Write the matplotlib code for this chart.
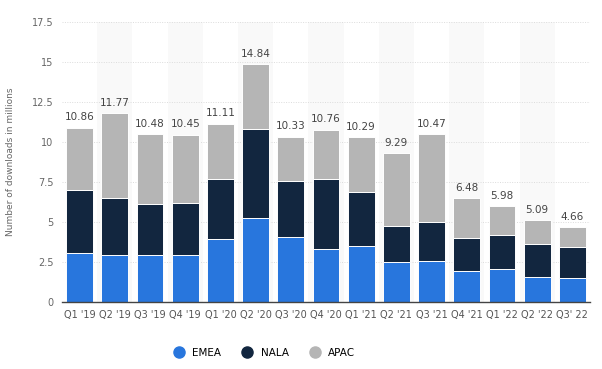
import matplotlib
matplotlib.use("Agg")
import matplotlib.pyplot as plt
from matplotlib.lines import Line2D
import numpy as np

categories = ["Q1 '19", "Q2 '19", "Q3 '19", "Q4 '19", "Q1 '20", "Q2 '20", "Q3 '20",
              "Q4 '20", "Q1 '21", "Q2 '21", "Q3 '21", "Q4 '21", "Q1 '22", "Q2 '22", "Q3' 22"]
emea = [3.08, 2.94, 2.90, 2.90, 3.90, 5.25, 4.06, 3.33, 3.46, 2.52, 2.56, 1.90, 2.06, 1.54, 1.48]
nala = [3.92, 3.56, 3.23, 3.30, 3.79, 5.56, 3.46, 4.34, 3.42, 2.25, 2.42, 2.10, 2.11, 2.06, 1.94]
totals = [10.86, 11.77, 10.48, 10.45, 11.11, 14.84, 10.33, 10.76, 10.29, 9.29, 10.47, 6.48, 5.98, 5.09, 4.66]
apac = [round(t - e - n, 2) for t, e, n in zip(totals, emea, nala)]
yticks = [0, 2.5, 5, 7.5, 10, 12.5, 15, 17.5]
ytick_labels = ["0", "2.5", "5", "7.5", "10", "12.5", "15", "17.5"]

c_emea = "#2876dd"
c_nala = "#12263f"
c_apac = "#b5b5b5"

fig = plt.figure(figsize=(6.02, 3.69), dpi=100)
ax = fig.add_axes([0.103, 0.182, 0.877, 0.759])
x = np.arange(len(categories))

for i in x:
    if i % 2 == 1:
        ax.axvspan(i - 0.5, i + 0.5, color="#f9f9f9", zorder=0, lw=0)

for y in yticks[1:]:
    ax.axhline(y, color="#dcdcdc", lw=0.7, ls=(0, (1, 1.5)), zorder=1)

w = 0.76
ax.bar(x, emea, w, color=c_emea, edgecolor="white", linewidth=0.7, zorder=2)
ax.bar(x, nala, w, bottom=emea, color=c_nala, edgecolor="white", linewidth=0.7, zorder=2)
bot2 = [e + n for e, n in zip(emea, nala)]
ax.bar(x, apac, w, bottom=bot2, color=c_apac, edgecolor="white", linewidth=0.7, zorder=2)

for i, t in zip(x, totals):
    ax.text(i, t + 0.35, f"{t:.2f}", ha="center", va="bottom", fontsize=7.5, color="#444444")

ax.set_xlim(-0.5, len(categories) - 0.5)
ax.set_ylim(0, 17.5)
ax.set_xticks(x)
ax.set_xticklabels(categories, fontsize=7, color="#555555")
ax.set_yticks(yticks)
ax.set_yticklabels(ytick_labels, fontsize=7, color="#666666")
ax.tick_params(axis="both", length=0, pad=6)
for s in ["top", "right", "left"]:
    ax.spines[s].set_visible(False)
ax.spines["bottom"].set_color("#444444")
ax.spines["bottom"].set_linewidth(1.0)
ax.set_ylabel("Number of downloads in millions", fontsize=6.5, color="#666666", labelpad=12)

handles = [Line2D([0], [0], marker="o", ls="", markersize=8, color=c) for c in (c_emea, c_nala, c_apac)]
fig.legend(handles, ["EMEA", "NALA", "APAC"], loc="center", bbox_to_anchor=(0.435, 0.044),
           ncol=3, frameon=False, fontsize=7.5, handletextpad=0.3, columnspacing=1.5)

fig.savefig("out.png", dpi=100)
